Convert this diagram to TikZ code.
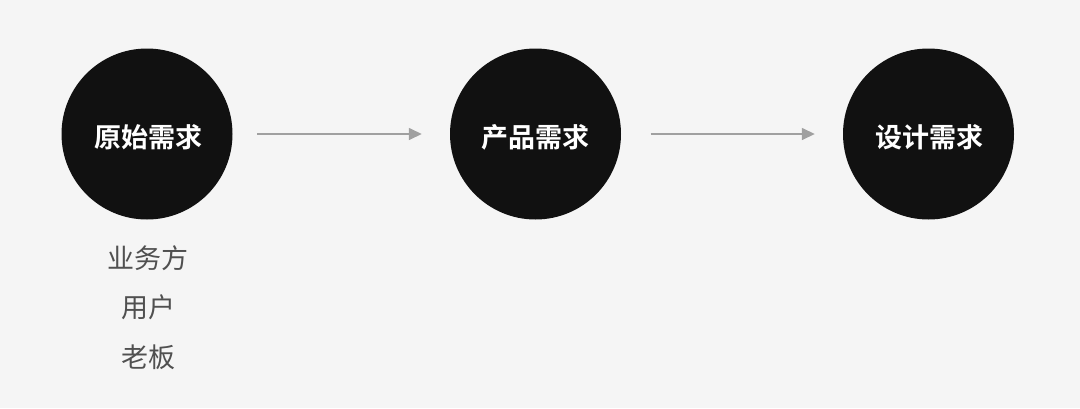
\documentclass[tikz,border=0pt]{standalone}
\usepackage{fontspec}
\newfontfamily\cjk{Noto Sans CJK SC}
\newfontfamily\cjkb{Noto Sans CJK SC Bold}
\usetikzlibrary{arrows.meta}
\definecolor{bg}{HTML}{F5F5F5}
\definecolor{disc}{HTML}{111111}
\definecolor{arr}{HTML}{A0A0A0}
\definecolor{sub}{HTML}{505050}
\begin{document}
\begin{tikzpicture}[x=1pt,y=-1pt,
  stage/.style={circle,fill=disc,minimum size=171pt,inner sep=0pt},
  stagelabel/.style={text=white,inner sep=0pt,font=\cjkb\fontsize{27}{30}\selectfont},
  flow/.style={draw=arr,line width=1.5pt,-{Triangle[length=13pt,width=12pt]}},
  subtext/.style={text=sub,font=\cjk\fontsize{27}{30}\selectfont,inner sep=0pt}]
\fill[bg] (0,0) rectangle (1080,408);
\useasboundingbox (0,0) rectangle (1080,408);
\node[stage] (a) at (147,134) {};
\node[stage] (b) at (535.5,134) {};
\node[stage] (c) at (928.5,134) {};
\node[stagelabel] (la) at (148,137) {原始需求};
\node[stagelabel] (lb) at (535.5,137) {产品需求};
\node[stagelabel] (lc) at (929,137) {设计需求};
\draw[flow,shorten <=24.5pt,shorten >=28pt] (a) -- (b);
\draw[flow,shorten <=29.5pt,shorten >=28pt] (b) -- (c);
\node[subtext] (s1) at (148,258) {业务方};
\node[subtext] (s2) at (148,307) {用户};
\node[subtext] (s3) at (148,357) {老板};
\end{tikzpicture}
\end{document}
